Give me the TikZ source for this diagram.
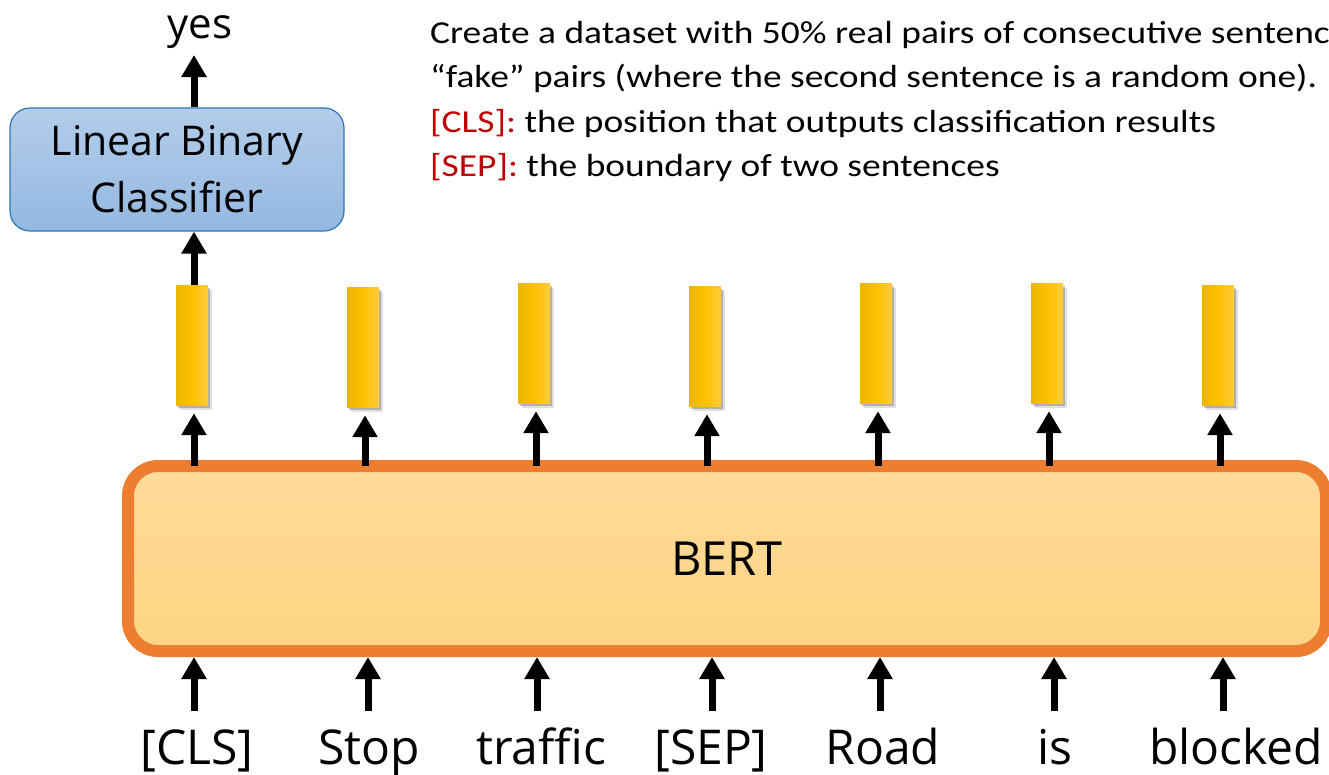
\documentclass[tikz,border=0pt]{standalone}
\usepackage{fontspec}
\setmainfont{Open Sans}
\newfontfamily\notefont[FakeStretch=1.17]{Carlito}
\usetikzlibrary{arrows.meta,shadows}
\definecolor{bertline}{HTML}{ED7D31}
\definecolor{berttop}{HTML}{FEDB9A}
\definecolor{bertbot}{HTML}{FDD482}
\definecolor{clsline}{HTML}{2E75B6}
\definecolor{clstop}{HTML}{B3CDEA}
\definecolor{clsbot}{HTML}{94B8E1}
\definecolor{barL}{HTML}{EAB600}
\definecolor{barM}{HTML}{FFC000}
\definecolor{barR}{HTML}{FFCB3E}
\definecolor{tagred}{HTML}{C00000}
\begin{document}
\begin{tikzpicture}[x=1pt,y=-1pt,
  arr/.style={line width=7pt,-{Triangle[width=24pt,length=22pt]}},
  bar/.style={minimum width=32pt,minimum height=120pt,inner sep=0pt,
    shading=axis,left color=barL,right color=barR,middle color=barM,
    drop shadow={shadow xshift=4pt,shadow yshift=-5pt,opacity=.12,fill=black},
    drop shadow={shadow xshift=2pt,shadow yshift=-3pt,opacity=.22,fill=black}},
  word/.style={anchor=base,inner sep=0pt,font=\fontsize{48}{56}\selectfont},
  note/.style={anchor=base west,inner sep=0pt,font=\notefont\fontsize{32}{40}\selectfont}]
\useasboundingbox (0,0) rectangle (1329,774);

% BERT encoder block
\node[draw=bertline,line width=12pt,rounded corners=30pt,
      top color=berttop,bottom color=bertbot,
      minimum width=1198pt,minimum height=185pt,
      font=\fontsize{47}{56}\selectfont] (bert) at (727,558.5) {BERT};

% classifier on top of the [CLS] position
\node[draw=clsline,line width=1.2pt,rounded corners=20pt,
      top color=clstop,bottom color=clsbot,
      minimum width=334pt,minimum height=123pt,align=center,
      font=\fontsize{41}{57}\selectfont] (cls) at (177,169.5) {Linear Binary\\Classifier};
\node[anchor=base,inner sep=0pt,font=\fontsize{42}{50}\selectfont] (yes) at (200,38) {yes};
\coordinate (yestip) at (194,55);

% output vectors
\node[bar] (b1) at (192,345) {};
\node[bar] (b2) at (363,347) {};
\node[bar] (b3) at (534,343) {};
\node[bar] (b4) at (705,346) {};
\node[bar] (b5) at (876,343) {};
\node[bar] (b6) at (1047,343) {};
\node[bar] (b7) at (1218,345) {};

% input tokens
\node[word] (w1) at (197,764) {[CLS]};
\node[word] (w2) at (369,764) {Stop};
\node[word] (w3) at (541,764) {traffic};
\node[word] (w4) at (711,764) {[SEP]};
\node[word] (w5) at (883,764) {Road};
\node[word] (w6) at (1055,764) {is};
\node[word] (w7) at (1236,764) {blocked};

% tails of the input arrows
\coordinate (t1) at (194,711);
\coordinate (t2) at (368,711);
\coordinate (t3) at (537,711);
\coordinate (t4) at (712,711);
\coordinate (t5) at (880,711);
\coordinate (t6) at (1054,711);
\coordinate (t7) at (1223,711);
\foreach \i in {1,...,7}{
  \draw[arr] (t\i) -- (t\i |- bert.south);
}

% BERT to output vectors
\foreach \i in {1,...,7}{
  \draw[arr] ([xshift=2pt,yshift=-6pt]b\i.south |- bert.north) -- ([xshift=2pt,yshift=-8pt]b\i.south);
}

% [CLS] vector to classifier, classifier to answer
\draw[arr] ([xshift=2pt]b1.north) -- ([xshift=2pt]b1.north |- cls.south);
\draw[arr] (yestip |- cls.north) -- (yestip);

% task description
\node[note] (n1) at (430,43) {Create a dataset with 50\% real pairs of consecutive sentences};
\node[note] (n2) at (430,87.5) {“fake” pairs (where the second sentence is a random one).};
\node[note] (n3) at (430,132) {\textcolor{tagred}{[CLS]:} the position that outputs classification results};
\node[note] (n4) at (430,176.5) {\textcolor{tagred}{[SEP]:} the boundary of two sentences};
\end{tikzpicture}
\end{document}
